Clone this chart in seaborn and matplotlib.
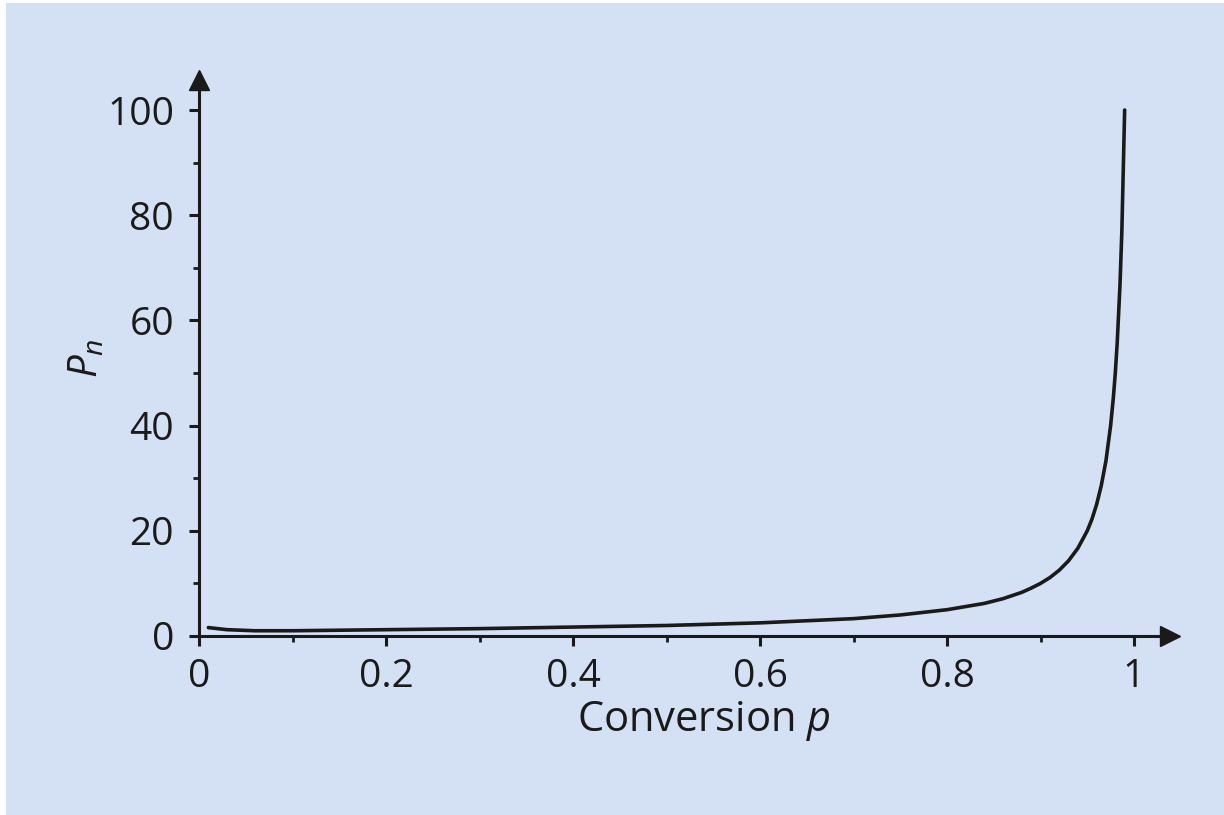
import matplotlib
matplotlib.use("Agg")
import matplotlib.pyplot as plt
import seaborn as sns
import pandas as pd
from matplotlib.patches import Rectangle
from matplotlib.ticker import MultipleLocator

# Values
conversion = [0.01, 0.03, 0.06, 0.10, 0.20, 0.30, 0.40, 0.50, 0.60, 0.70,
              0.75, 0.80, 0.82, 0.84, 0.86, 0.88, 0.89, 0.90, 0.91, 0.92,
              0.93, 0.94, 0.95, 0.955, 0.96, 0.965, 0.97, 0.975, 0.978, 0.98,
              0.982, 0.985, 0.987, 0.99]
pn = [1.6, 1.2, 1.0, 1.0, 1.2, 1.4, 1.7, 2.0, 2.5, 3.3,
      4.0, 5.0, 5.6, 6.2, 7.1, 8.3, 9.1, 10.0, 11.1, 12.5,
      14.3, 16.7, 20.0, 22.2, 25.0, 28.6, 33.3, 40.0, 45.5, 50.0,
      55.6, 66.7, 76.9, 100.0]

x_ticks = [0, 0.2, 0.4, 0.6, 0.8, 1.0]
x_tick_labels = ["0", "0.2", "0.4", "0.6", "0.8", "1"]
y_ticks = [0, 20, 40, 60, 80, 100]

bg = "#d4e0f3"

sns.set_theme(style="white")
plt.rcParams["font.family"] = ["Open Sans", "DejaVu Sans"]
plt.rcParams["mathtext.fontset"] = "custom"
plt.rcParams["mathtext.rm"] = "Open Sans"
plt.rcParams["mathtext.it"] = "Open Sans:italic"

fig = plt.figure(figsize=(12.24, 8.15), dpi=100, facecolor="white")
# blue panel (thin white strip on the left and top as in the reference)
panel = Rectangle((6 / 1224, 0), 1, 1 - 3 / 815, transform=fig.transFigure,
                  facecolor=bg, edgecolor="none", zorder=-10)
fig.add_artist(panel)

ax = fig.add_axes([199 / 1224, 179 / 815, (1170 - 199) / 1224, (636 - 80) / 815])
ax.set_facecolor("none")

df = pd.DataFrame({"p": conversion, "Pn": pn})
sns.lineplot(data=df, x="p", y="Pn", ax=ax, color="#1a1a1a", linewidth=2.6,
             clip_on=False)

ax.set_xlim(0, (1170 - 199) / 935)
ax.set_ylim(0, (636 - 80) / 5.26)

for side in ["top", "right"]:
    ax.spines[side].set_visible(False)
for side in ["left", "bottom"]:
    ax.spines[side].set_linewidth(2.2)
    ax.spines[side].set_color("#1a1a1a")

# arrow heads on the axes
ax.plot(1, 0, ">", color="#1a1a1a", markersize=15, transform=ax.get_yaxis_transform(),
        clip_on=False)
ax.plot(0, 1, "^", color="#1a1a1a", markersize=15, transform=ax.get_xaxis_transform(),
        clip_on=False)

ax.set_xticks(x_ticks)
ax.set_xticklabels(x_tick_labels)
ax.set_yticks(y_ticks)
ax.xaxis.set_minor_locator(MultipleLocator(0.1))
ax.yaxis.set_minor_locator(MultipleLocator(10))
ax.tick_params(which="major", direction="out", length=7, width=2.2, color="#1a1a1a",
               labelsize=28, labelcolor="#1a1a1a", bottom=True, left=True)
ax.tick_params(axis="x", which="major", pad=9)
ax.tick_params(axis="y", which="major", pad=11)
ax.tick_params(which="minor", direction="out", length=4, width=2, color="#1a1a1a",
               bottom=True, left=True)

ax.set_xlabel("Conversion $p$", fontsize=30, color="#1a1a1a", labelpad=2)
ax.xaxis.label.set_x(0.52)
ax.set_ylabel("$P_n$", fontsize=29, color="#1a1a1a", labelpad=0)

plt.savefig("out.png", dpi=100, facecolor=fig.get_facecolor())
